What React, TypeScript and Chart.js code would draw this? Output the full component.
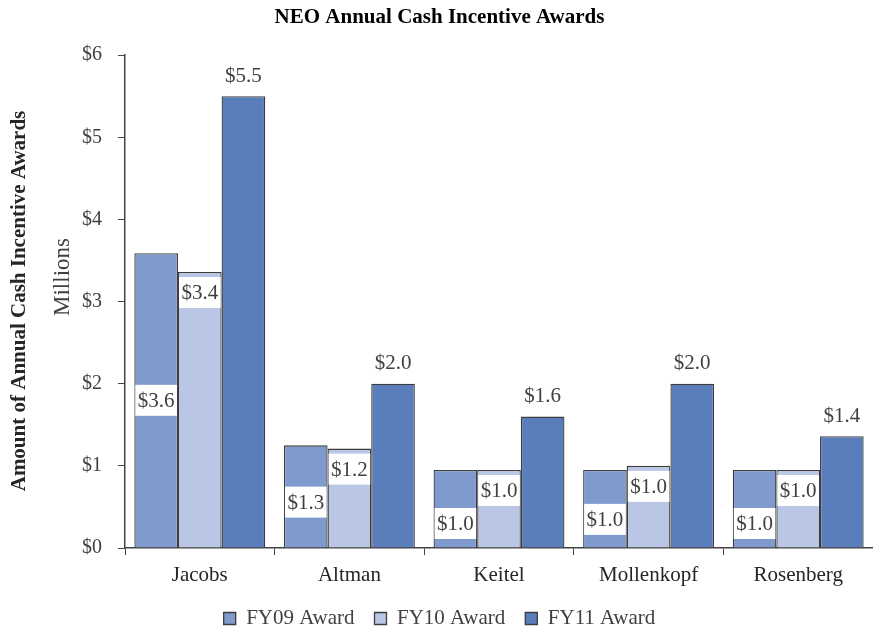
import { useEffect, useRef } from "react";
import { Chart, registerables } from "chart.js";
Chart.register(...registerables);

const categories = ["Jacobs", "Altman", "Keitel", "Mollenkopf", "Rosenberg"];
const fy09 = [3.59, 1.25, 0.95, 0.95, 0.95];
const fy10 = [3.36, 1.21, 0.95, 1.0, 0.95];
const fy11 = [5.5, 2.0, 1.6, 2.0, 1.36];
const seriesNames = ["FY09 Award", "FY10 Award", "FY11 Award"];
const yTicks = [0, 1, 2, 3, 4, 5, 6];
const chartTitle = "NEO Annual Cash Incentive Awards";
const yTitle = "Amount of Annual Cash Incentive Awards";
const yUnit = "Millions";

const colors = ["#7F9BCD", "#BAC6E5", "#5A7EBB"];
const SERIF = '"Liberation Serif", "Times New Roman", serif';
const fmt = (v: number) => "$" + (Math.round(v * 10) / 10).toFixed(1);

const labelPlugin = {
  id: "barLabels",
  afterDatasetsDraw(chart: any) {
    const ctx = chart.ctx;
    ctx.save();
    ctx.font = `21px ${SERIF}`;
    ctx.textAlign = "center";
    ctx.textBaseline = "middle";
    const m0 = chart.getDatasetMeta(0);
    const m1 = chart.getDatasetMeta(1);
    const m2 = chart.getDatasetMeta(2);
    const boxH = 31;
    const drawBox = (el: any, top: number, v: number) => {
      const w = el.width - 2;
      ctx.fillStyle = "#ffffff";
      ctx.fillRect(el.x - w / 2, top, w, boxH);
      ctx.fillStyle = "#404040";
      ctx.fillText(fmt(v), el.x, top + boxH / 2 + 1);
    };
    categories.forEach((_, i) => {
      const b1 = m1.data[i];
      const top1 = b1.y + 5;
      drawBox(b1, top1, fy10[i]);
      const b0 = m0.data[i];
      const mid0 = (b0.y + b0.base) / 2;
      const c0 = Math.max(mid0, top1 + boxH + 2 + boxH / 2);
      drawBox(b0, c0 - boxH / 2, fy09[i]);
      const b2 = m2.data[i];
      ctx.fillStyle = "#404040";
      ctx.fillText(fmt(fy11[i]), b2.x, b2.y - 20);
    });
    ctx.restore();
  },
};

const sideTitles = {
  id: "sideTitles",
  afterDraw(chart: any) {
    const ctx = chart.ctx;
    ctx.save();
    ctx.fillStyle = "#262626";
    ctx.textAlign = "center";
    ctx.textBaseline = "middle";
    ctx.font = `bold 21px ${SERIF}`;
    ctx.translate(20, 301);
    ctx.rotate(-Math.PI / 2);
    ctx.fillText(yTitle, 0, 0);
    ctx.restore();
    ctx.save();
    ctx.fillStyle = "#404040";
    ctx.textAlign = "center";
    ctx.textBaseline = "middle";
    ctx.font = `23px ${SERIF}`;
    ctx.translate(63, 277);
    ctx.rotate(-Math.PI / 2);
    ctx.fillText(yUnit, 0, 0);
    ctx.restore();
  },
};

export default function App() {
  const ref = useRef<HTMLCanvasElement | null>(null);
  useEffect(() => {
    if (!ref.current) return;
    const data = [fy09, fy10, fy11];
    const chart = new Chart(ref.current, {
      type: "bar",
      data: {
        labels: categories,
        datasets: seriesNames.map((name, k) => ({
          label: name,
          data: data[k],
          backgroundColor: colors[k],
          borderColor: "#3c3c3c",
          borderWidth: 1.3,
          categoryPercentage: 0.875,
          barPercentage: 1.0,
        })),
      },
      options: {
        responsive: false,
        animation: false,
        layout: { padding: { left: 0, right: -6, top: 0, bottom: -6 } },
        plugins: {
          title: {
            display: true,
            text: chartTitle,
            color: "#000",
            font: { family: SERIF, size: 21, weight: "bold" },
            padding: { top: 5, bottom: 25 },
          },
          legend: {
            position: "bottom",
            labels: {
              color: "#404040",
              font: { family: SERIF, size: 21 },
              boxWidth: 12,
              boxHeight: 12,
              padding: 20,
            },
          },
          tooltip: { enabled: false },
        },
        scales: {
          x: {
            grid: {
              display: true,
              drawOnChartArea: false,
              offset: true,
              tickLength: 7,
              color: "#444",
            },
            border: { display: true, color: "#444", width: 1.5 },
            ticks: { color: "#262626", font: { family: SERIF, size: 21 }, padding: 8 },
            afterFit(scale: any) {
              scale.height = 40;
            },
          },
          y: {
            min: 0,
            max: 6,
            afterBuildTicks(scale: any) {
              scale.ticks = yTicks.map((v) => ({ value: v }));
            },
            grid: {
              display: true,
              drawOnChartArea: false,
              tickLength: 7,
              color: "#444",
            },
            border: { display: true, color: "#444", width: 1.5 },
            ticks: {
              color: "#404040",
              font: { family: SERIF, size: 20 },
              padding: 16,
              callback: (v: any) => "$" + v,
            },
            afterFit(scale: any) {
              scale.width = 125;
            },
          },
        },
      },
      plugins: [labelPlugin, sideTitles],
    });
    return () => chart.destroy();
  }, []);
  return (
    <div style={{ position: "fixed", left: 0, top: 0, width: 873, height: 633, background: "#fff" }}>
      <canvas ref={ref} width={873} height={633} style={{ width: 873, height: 633 }} />
    </div>
  );
}
